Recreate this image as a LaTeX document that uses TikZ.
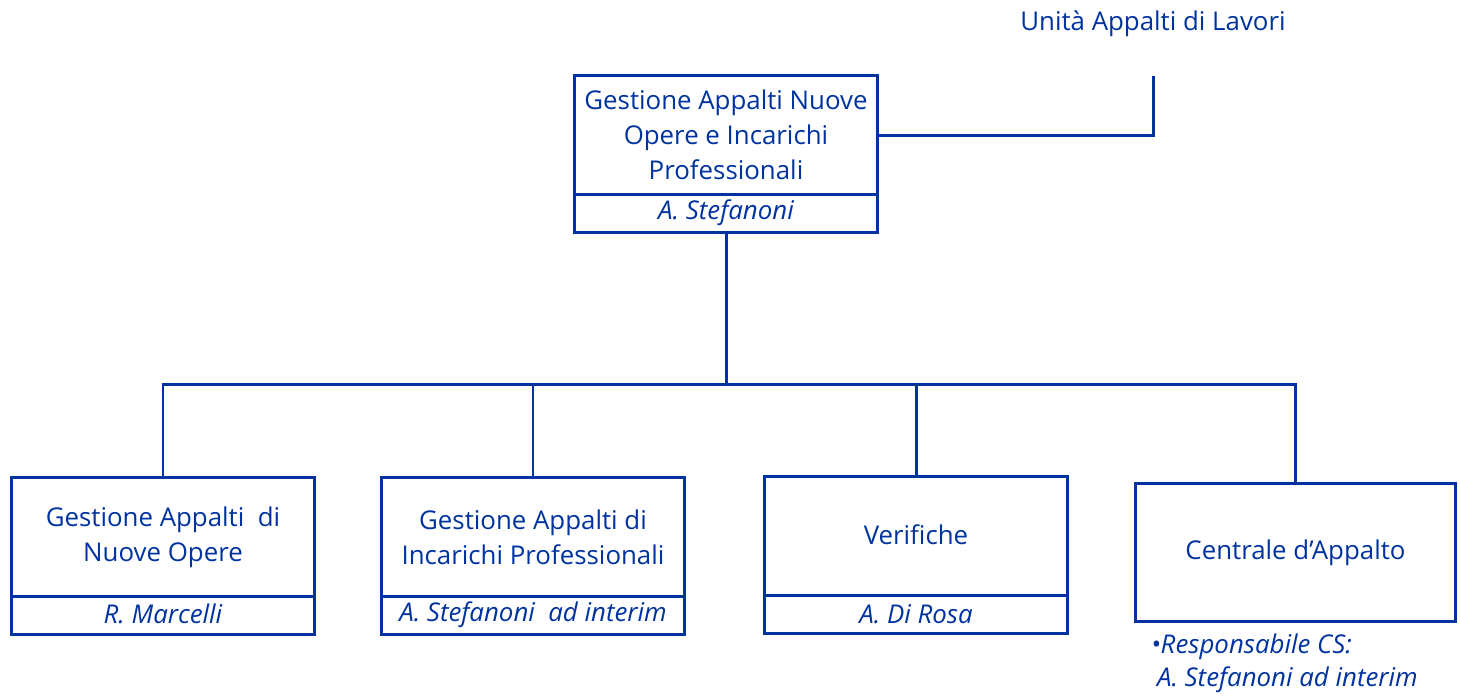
\documentclass[tikz,border=0pt]{standalone}
\usepackage{fontspec}
\setmainfont{Open Sans}
\usetikzlibrary{positioning}
\definecolor{orgblue}{RGB}{0,51,160}

\begin{document}
\begin{tikzpicture}[x=0.01cm,y=-0.01cm,
  every node/.style={text=orgblue,font=\fontsize{7.35}{10}\selectfont,outer sep=0pt},
  unit/.style={draw=orgblue,line width=0.85pt,minimum width=3.02cm,minimum height=1.18cm,inner sep=0pt,align=center},
  who/.style={draw=orgblue,line width=0.85pt,minimum width=3.02cm,minimum height=0.38cm,inner sep=0pt,font=\fontsize{7.35}{10}\selectfont\itshape},
  link/.style={draw=orgblue,line width=0.85pt}]
\useasboundingbox (0,0) rectangle (1460,699);

% head of the office
\node[unit] (top) at (726,135) {Gestione Appalti Nuove\\Opere e Incarichi\\Professionali};
\node[who,below=0pt of top] (topname) {\raisebox{0.03cm}{A. Stefanoni}};
\node (unita) at (1153,24) {Unità Appalti di Lavori};
\coordinate (corner) at (1153,76);
\draw[link] (top.east) -| (corner);

% the four sections
\node[unit] (nuove) at (163,537) {\raisebox{-0.03cm}{\parbox{3cm}{\centering Gestione Appalti\ \ di\\Nuove Opere}}};
\node[who,below=0pt of nuove] (nuovename) {\raisebox{0.03cm}{R. Marcelli}};
\node[unit] (incarichi) at (533,537) {Gestione Appalti di\\Incarichi Professionali};
\node[who,below=0pt of incarichi] (incarichiname) {A. Stefanoni\ \ ad interim};
\node[unit] (verifiche) at (916,536) {\raisebox{0.03cm}{Verifiche}};
\node[who,below=0pt of verifiche] (verifichename) {A. Di Rosa};
\node[unit,minimum width=3.19cm,minimum height=1.37cm] (centrale) at (1295.5,552.5) {\raisebox{-0.03cm}{Centrale d’Appalto}};
\node[anchor=north west,align=left,inner sep=0pt,font=\fontsize{7.35}{9.4}\selectfont\itshape] (csnote) at (1151,634)
  {•Responsabile CS:\\\hspace*{0.06cm}A. Stefanoni ad interim};

\coordinate (bar) at (726,384);
\draw[link] (topname.south) -- (bar);
\foreach \c in {nuove,incarichi,verifiche,centrale}
  \draw[link] (bar) -| (\c.north);

\end{tikzpicture}
\end{document}
